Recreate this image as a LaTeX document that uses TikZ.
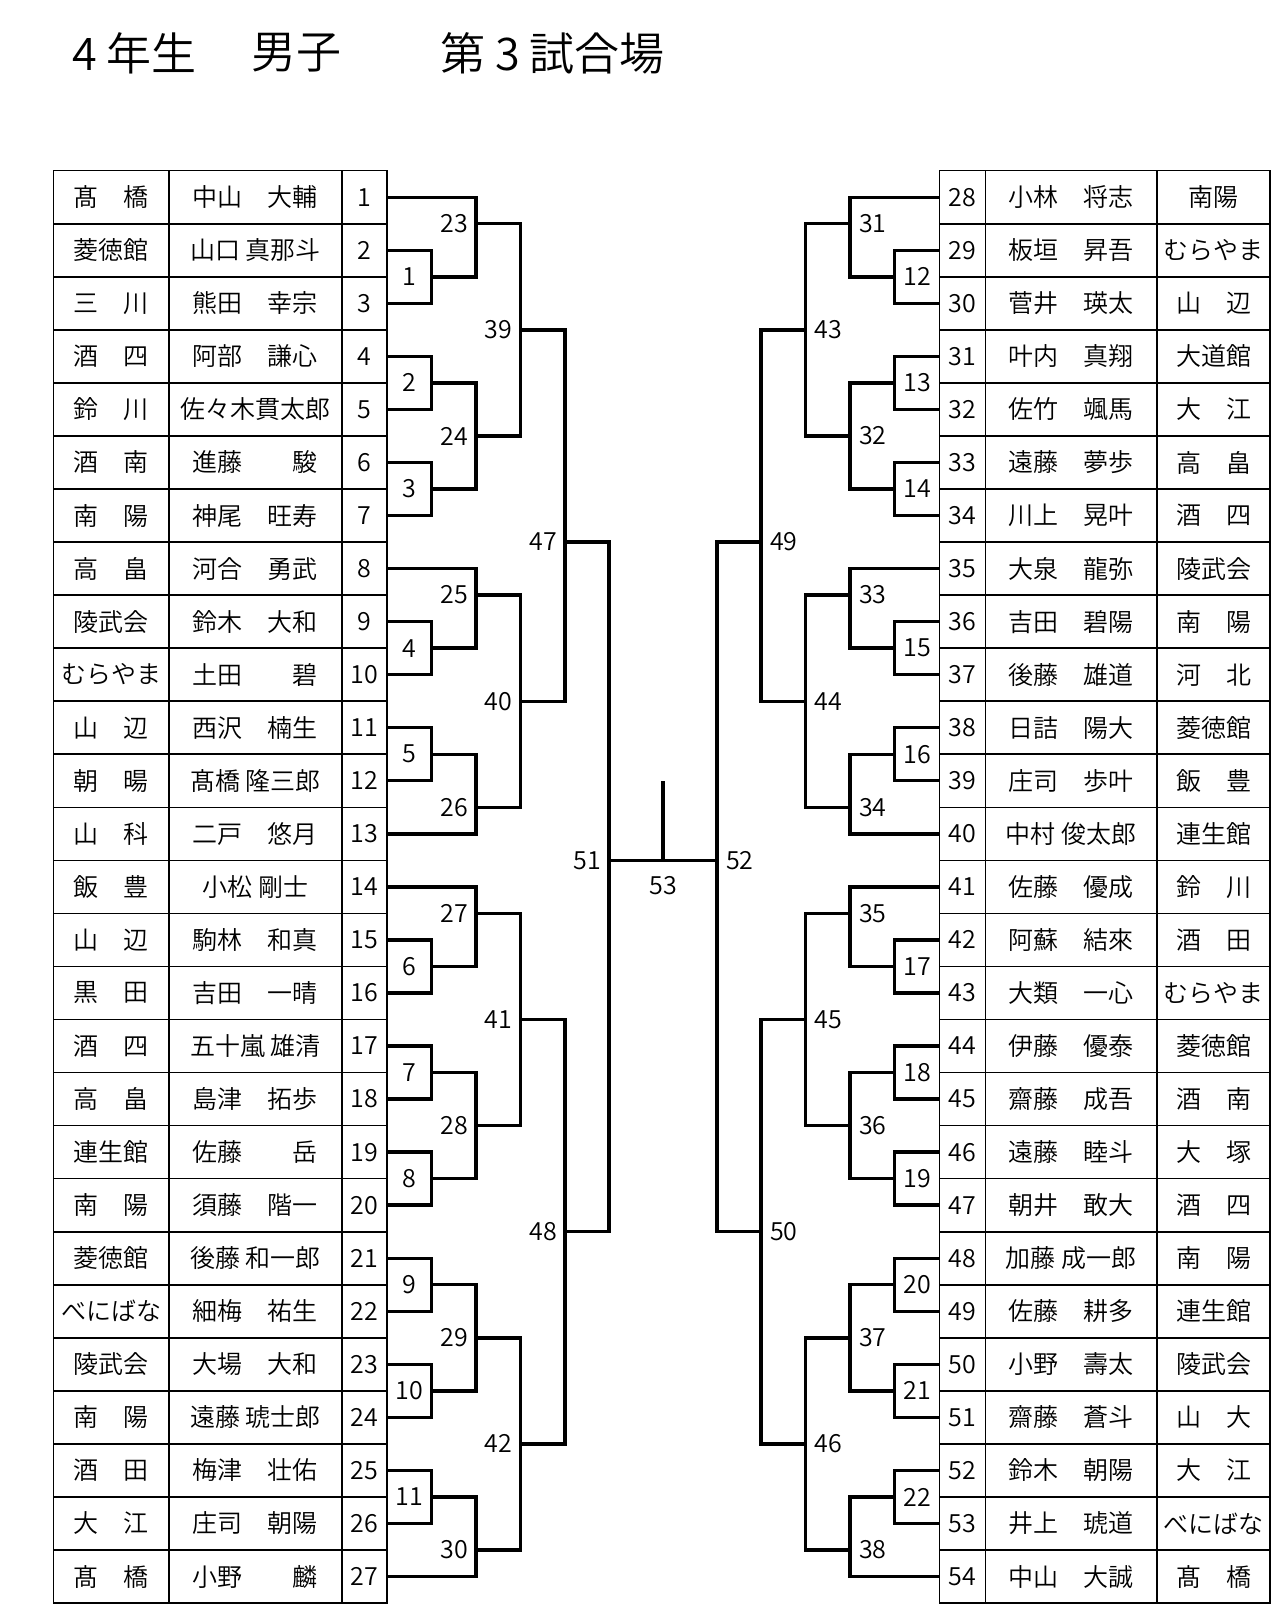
\documentclass[tikz,border=0pt]{standalone}
\usepackage{fontspec}
\IfFontExistsTF{Noto Sans CJK JP DemiLight}
  {\setmainfont{Noto Sans CJK JP DemiLight}}
  {\setmainfont{Noto Sans CJK JP}}
\usetikzlibrary{positioning,calc}

\begin{document}
\begin{tikzpicture}[
  x=1pt, y=-1pt,
  declare function={ry(\u)=170.7+53.05*\u;},
  cell/.style={rectangle, draw, line width=1.6pt, minimum height=53.05pt,
    inner sep=0pt, font=\fontsize{25}{30}\selectfont},
  bracket/.style={line width=3.4pt},
  lbl/.style={inner sep=0pt, font=\fontsize{25}{30}\selectfont},
  heading/.style={anchor=west, inner sep=0pt, font=\fontsize{45}{54}\selectfont},
]
  \useasboundingbox (0,0) rectangle (1280,1605);

  \node[heading] (grade)  at (72,53)  {4 年生};
  \node[heading] (gender) at (251,53) {男子};
  \node[heading] (court)  at (440,53) {第 3 試合場};

  % left block
  \foreach \i/\club/\player in {
    1/髙　橋/中山　大輔, 2/菱徳館/山口 真那斗, 3/三　川/熊田　幸宗,
    4/酒　四/阿部　謙心, 5/鈴　川/佐々木貫太郎, 6/酒　南/進藤　　駿,
    7/南　陽/神尾　旺寿, 8/高　畠/河合　勇武, 9/陵武会/鈴木　大和,
    10/むらやま/土田　　碧, 11/山　辺/西沢　楠生, 12/朝　暘/髙橋 隆三郎,
    13/山　科/二戸　悠月, 14/飯　豊/小松 剛士, 15/山　辺/駒林　和真,
    16/黒　田/吉田　一晴, 17/酒　四/五十嵐 雄清, 18/高　畠/島津　拓歩,
    19/連生館/佐藤　　岳, 20/南　陽/須藤　階一, 21/菱徳館/後藤 和一郎,
    22/べにばな/細梅　祐生, 23/陵武会/大場　大和, 24/南　陽/遠藤 琥士郎,
    25/酒　田/梅津　壮佑, 26/大　江/庄司　朝陽, 27/髙　橋/小野　　麟} {
    \node[cell, minimum width=115.7pt] (club\i)   at (111.15,{ry(\i-0.5)}) {\club};
    \node[cell, minimum width=172.7pt] (player\i) at (255.35,{ry(\i-0.5)}) {\player};
    \node[cell, minimum width=45.3pt]  (num\i)    at (364.35,{ry(\i-0.5)}) {\i};
  }

  % right block
  \foreach \i/\player/\club in {
    28/小林　将志/南陽, 29/板垣　昇吾/むらやま, 30/菅井　瑛太/山　辺,
    31/叶内　真翔/大道館, 32/佐竹　颯馬/大　江, 33/遠藤　夢歩/高　畠,
    34/川上　晃叶/酒　四, 35/大泉　龍弥/陵武会, 36/吉田　碧陽/南　陽,
    37/後藤　雄道/河　北, 38/日詰　陽大/菱徳館, 39/庄司　歩叶/飯　豊,
    40/中村 俊太郎/連生館, 41/佐藤　優成/鈴　川, 42/阿蘇　結來/酒　田,
    43/大類　一心/むらやま, 44/伊藤　優泰/菱徳館, 45/齋藤　成吾/酒　南,
    46/遠藤　睦斗/大　塚, 47/朝井　敢大/酒　四, 48/加藤 成一郎/南　陽,
    49/佐藤　耕多/連生館, 50/小野　壽太/陵武会, 51/齋藤　蒼斗/山　大,
    52/鈴木　朝陽/大　江, 53/井上　琥道/べにばな, 54/中山　大誠/髙　橋} {
    \node[cell, minimum width=46pt]    (num\i)    at (962.3,{ry(\i-27.5)})   {\i};
    \node[cell, minimum width=171.7pt] (player\i) at (1071.15,{ry(\i-27.5)}) {\player};
    \node[cell, minimum width=113pt]   (club\i)   at (1213.5,{ry(\i-27.5)})  {\club};
  }

  % match points
  \foreach \m/\u in {1/2,2/4,3/6,4/9,5/11,6/15,7/17,8/19,9/21,10/23,11/25} {
    \coordinate (m\m) at (431.5,{ry(\u)});
    \node[lbl] (lb\m) at (409,{ry(\u)}) {\m};
  }
  \foreach \m/\x/\u in {23/476/1, 24/476/5, 25/476/8, 26/476/12, 27/476/14,
      28/476/18, 29/476/22, 30/476/26, 39/520.5/3, 40/520.5/10, 41/520.5/16,
      42/520.5/24, 47/565/7, 48/565/20, 51/609/13} {
    \coordinate (m\m) at (\x,{ry(\u)});
    \node[lbl, anchor=east] (lb\m) at (\x-8,{ry(\u)}) {\m};
  }
  \foreach \m/\u in {12/2,13/4,14/6,15/9,16/11,17/15,18/17,19/19,20/21,21/23,22/25} {
    \coordinate (m\m) at (894.5,{ry(\u)});
    \node[lbl] (lb\m) at (917,{ry(\u)}) {\m};
  }
  \foreach \m/\x/\u in {31/850/1, 32/850/5, 33/850/8, 34/850/12, 35/850/14,
      36/850/18, 37/850/22, 38/850/26, 43/805.5/3, 44/805.5/10, 45/805.5/16,
      46/805.5/24, 49/761/7, 50/761/20, 52/717/13} {
    \coordinate (m\m) at (\x,{ry(\u)});
    \node[lbl, anchor=west] (lb\m) at (\x+9,{ry(\u)}) {\m};
  }
  \coordinate (m53) at (663,{ry(13)});
  \coordinate (m53top) at (663,{ry(11.5)});
  \node[lbl] (lb53) at (663,885.6) {53};

  % brackets
  \foreach \m/\a/\b in {
    1/num2.east/num3.east, 2/num4.east/num5.east, 3/num6.east/num7.east,
    4/num9.east/num10.east, 5/num11.east/num12.east, 6/num15.east/num16.east,
    7/num17.east/num18.east, 8/num19.east/num20.east, 9/num21.east/num22.east,
    10/num23.east/num24.east, 11/num25.east/num26.east,
    23/num1.east/m1, 24/m2/m3, 25/num8.east/m4, 26/m5/num13.east,
    27/num14.east/m6, 28/m7/m8, 29/m9/m10, 30/m11/num27.east,
    39/m23/m24, 40/m25/m26, 41/m27/m28, 42/m29/m30,
    47/m39/m40, 48/m41/m42, 51/m47/m48,
    12/num29.west/num30.west, 13/num31.west/num32.west, 14/num33.west/num34.west,
    15/num36.west/num37.west, 16/num38.west/num39.west, 17/num42.west/num43.west,
    18/num44.west/num45.west, 19/num46.west/num47.west, 20/num48.west/num49.west,
    21/num50.west/num51.west, 22/num52.west/num53.west,
    31/num28.west/m12, 32/m13/m14, 33/num35.west/m15, 34/m16/num40.west,
    35/num41.west/m17, 36/m18/m19, 37/m20/m21, 38/m22/num54.west,
    43/m31/m32, 44/m33/m34, 45/m35/m36, 46/m37/m38,
    49/m43/m44, 50/m45/m46, 52/m49/m50}
    \draw[bracket] (\a) -| (m\m) |- (\b);

  \draw[bracket] (m51) -- (m52);
  \draw[bracket] (m53) -- (m53top);
\end{tikzpicture}
\end{document}
